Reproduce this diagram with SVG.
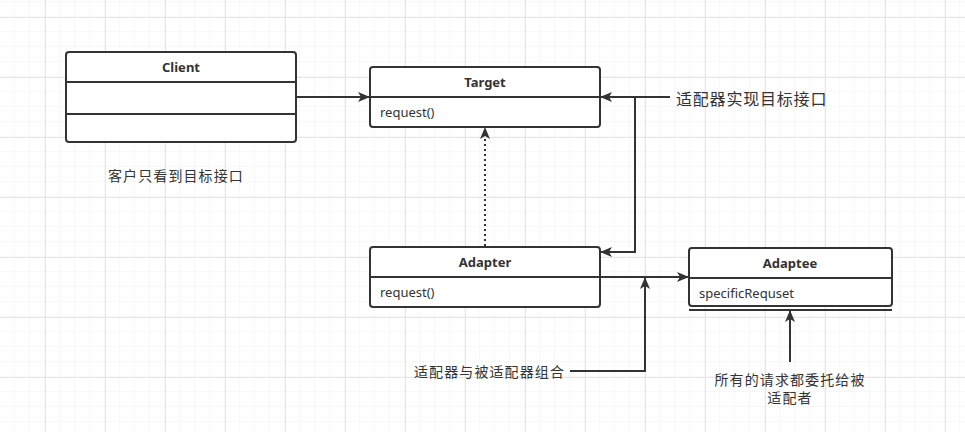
<svg xmlns="http://www.w3.org/2000/svg" width="965" height="432" viewBox="0 0 965 432">
<defs>
<pattern id="minor" x="0" y="2" width="15" height="15" patternUnits="userSpaceOnUse">
<path d="M15 0V15M0 15H15" fill="none" stroke="#f0f0f0" stroke-width="1"/>
</pattern>
<pattern id="major" x="45" y="17" width="60" height="60" patternUnits="userSpaceOnUse">
<path d="M0.5 0V60M0 0.5H60" fill="none" stroke="#e6e6e6" stroke-width="1"/>
</pattern>
<marker id="arr" viewBox="0 0 12 10" refX="11" refY="5" markerWidth="12" markerHeight="10" markerUnits="userSpaceOnUse" orient="auto">
<path d="M0 0L12 5L0 10L3 5Z" fill="#333"/>
</marker>
</defs>
<style>
.box{fill:#fff;stroke:#333;stroke-width:2}
.div{stroke:#333;stroke-width:2;fill:none}
.title{font-family:"Noto Sans","Noto Sans CJK SC",sans-serif;font-weight:bold;font-size:13px;fill:#333;text-anchor:middle}
.attr{font-family:"Noto Sans","Noto Sans CJK SC",sans-serif;font-size:13px;fill:#333}
.lbl{font-family:"Noto Sans CJK SC",sans-serif;font-size:14px;letter-spacing:1.1px;fill:#333}
.lbl16{font-family:"Noto Sans CJK SC",sans-serif;font-size:16px;letter-spacing:0.8px;fill:#333}
.con{fill:none;stroke:#333;stroke-width:2}
</style>
<rect width="965" height="432" fill="#fff"/>
<rect width="965" height="432" fill="url(#minor)"/>
<rect width="965" height="432" fill="url(#major)"/>

<g id="connectors">
<path class="con" d="M296 97H369" marker-end="url(#arr)"/>
<path class="con" d="M670 97H601" marker-end="url(#arr)"/>
<path class="con" d="M635 97V252H601" marker-end="url(#arr)"/>
<path class="con" d="M485 246V128" stroke-dasharray="2 3" marker-end="url(#arr)"/>
<path class="con" d="M600 277H688" marker-end="url(#arr)"/>
<path class="con" d="M570 371H645V278" marker-end="url(#arr)"/>
<path class="con" d="M790 362V311" marker-end="url(#arr)"/>
</g>

<g id="client">
<rect class="box" x="66" y="52" width="230" height="90" rx="3"/>
<path class="div" d="M66 82H296M66 114H296"/>
<text class="title" x="181" y="72">Client</text>
</g>

<g id="target">
<rect class="box" x="370" y="67" width="230" height="60" rx="3"/>
<path class="div" d="M370 97H600"/>
<text class="title" x="485" y="87">Target</text>
<text class="attr" x="380" y="117">request()</text>
</g>

<g id="adapter">
<rect class="box" x="370" y="247" width="230" height="60" rx="3"/>
<path class="div" d="M370 277H600"/>
<text class="title" x="485" y="267">Adapter</text>
<text class="attr" x="380" y="297">request()</text>
</g>

<g id="adaptee">
<rect class="box" x="689" y="248" width="203" height="58" rx="3"/>
<path class="div" d="M689 278H892M689 310H892"/>
<text class="title" x="790" y="268">Adaptee</text>
<text class="attr" x="699" y="298">specificRequset</text>
</g>

<g id="labels">
<text class="lbl" x="108" y="181">客户只看到目标接口</text>
<text class="lbl16" x="676" y="105">适配器实现目标接口</text>
<text class="lbl" x="414" y="377">适配器与被适配器组合</text>
<text class="lbl" x="790" y="385" text-anchor="middle">所有的请求都委托给被</text>
<text class="lbl" x="790" y="403" text-anchor="middle">适配者</text>
</g>
</svg>
